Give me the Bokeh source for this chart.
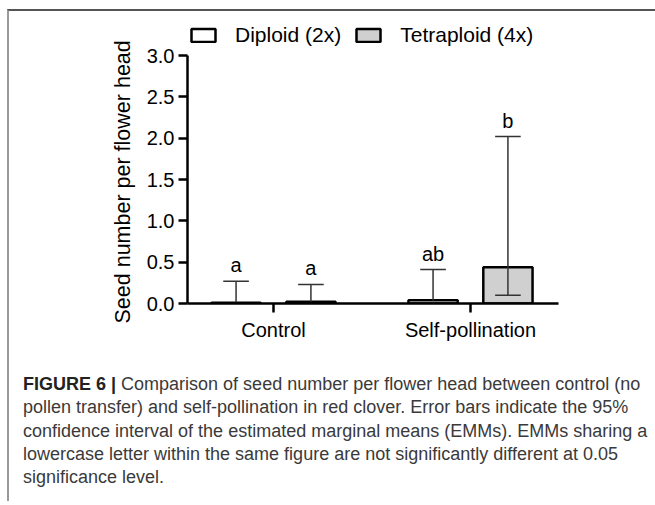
from bokeh.plotting import figure
from bokeh.models import (ColumnDataSource, FixedTicker, NumeralTickFormatter,
                          Legend, LegendItem, Div, Title)
from bokeh.layouts import column
from bokeh.core.properties import value
from bokeh.embed import file_html
from bokeh.resources import INLINE

# ---------------- data ----------------
categories = ["Control", "Self-pollination"]
cat_pos = [0, 1]
diploid_mean = [0.01, 0.04]
tetraploid_mean = [0.02, 0.44]
diploid_upper = [0.27, 0.41]
tetraploid_upper = [0.23, 2.02]
diploid_lower = [0.0, 0.0]
tetraploid_lower = [0.0, 0.10]
diploid_letters = ["a", "ab"]
tetraploid_letters = ["a", "b"]
y_ticks = [0.0, 0.5, 1.0, 1.5, 2.0, 2.5, 3.0]
series_names = ["Diploid (2x)", "Tetraploid (4x)"]
series_colors = ["white", "#d0d0d0"]
y_label = "Seed number per flower head"

caption_bold = "FIGURE 6 |"
caption_lines = [
    " Comparison of seed number per flower head between control (no",
    "pollen transfer) and self-pollination in red clover. Error bars indicate the 95%",
    "confidence interval of the estimated marginal means (EMMs). EMMs sharing a",
    "lowercase letter within the same figure are not significantly different at 0.05",
    "significance level.",
]

FONT = "Liberation Sans"
OFF = 0.19
BW = 0.25
CAP = 0.065

p = figure(width=646, height=340, output_backend="svg", toolbar_location=None,
           x_range=(-0.4365, 1.4467), y_range=(0, 3.4234),
           min_border_left=178, min_border_right=97,
           min_border_top=9, min_border_bottom=48)
p.grid.visible = False
p.outline_line_color = None
p.background_fill_color = "white"
p.border_fill_color = "white"

groups = [
    (diploid_mean, diploid_upper, diploid_lower, diploid_letters, -OFF, series_colors[0]),
    (tetraploid_mean, tetraploid_upper, tetraploid_lower, tetraploid_letters, OFF, series_colors[1]),
]
renderers = []
for mean, up, lo, letters, off, color in groups:
    xs = [c + off for c in cat_pos]
    src = ColumnDataSource(dict(x=xs, top=mean, up=up, txt=letters,
                                x0=[x - CAP for x in xs], x1=[x + CAP for x in xs]))
    r = p.vbar(x="x", top="top", bottom=0, width=BW, source=src,
               fill_color=color, line_color="black", line_width=2.5)
    renderers.append(r)
    p.segment(x0="x", y0="top", x1="x", y1="up", source=src,
              line_color="#333333", line_width=1.5)
    p.segment(x0="x0", y0="up", x1="x1", y1="up", source=src,
              line_color="#333333", line_width=1.5)
    lx = [x for x, l in zip(xs, lo) if l > 0]
    if lx:
        ll = [l for l in lo if l > 0]
        tops = [t for t, l in zip(mean, lo) if l > 0]
        lsrc = ColumnDataSource(dict(x=lx, lo=ll, top=tops,
                                     x0=[x - CAP for x in lx], x1=[x + CAP for x in lx]))
        p.segment(x0="x", y0="lo", x1="x", y1="top", source=lsrc,
                  line_color="#333333", line_width=1.5)
        p.segment(x0="x0", y0="lo", x1="x1", y1="lo", source=lsrc,
                  line_color="#333333", line_width=1.5)
    p.text(x="x", y="up", text="txt", source=src, text_align="center",
           text_baseline="alphabetic", y_offset=-16, text_font_size="20px",
           text_font=value(FONT), text_color="black")

p.xaxis.ticker = FixedTicker(ticks=cat_pos)
p.xaxis.major_label_overrides = {c: n for c, n in zip(cat_pos, categories)}
p.yaxis.ticker = FixedTicker(ticks=y_ticks)
p.yaxis.formatter = NumeralTickFormatter(format="0.0")
p.yaxis.bounds = (0, 3.0)
for ax in (p.xaxis, p.yaxis):
    ax.axis_line_width = 2.5
    ax.axis_line_color = "black"
    ax.major_tick_line_width = 2.5
    ax.major_tick_line_color = "black"
    ax.major_tick_out = 9
    ax.major_tick_in = 0
    ax.minor_tick_line_color = None
    ax.major_label_text_font = FONT
    ax.major_label_text_font_size = "20px"
    ax.major_label_text_color = "black"
p.xaxis.major_label_standoff = 6
p.yaxis.major_label_standoff = 4

# y-axis title, starting just below the x axis like the reference
p.add_layout(Title(text=y_label, align="left", offset=-20, standoff=18,
                   text_font=FONT, text_font_size="21.5px",
                   text_font_style="normal", text_color="black"), "left")

legend = Legend(items=[LegendItem(label=n, renderers=[r]) for n, r in zip(series_names, renderers)],
                orientation="horizontal", location=(1, 256),
                glyph_width=30, glyph_height=16, label_height=16,
                label_standoff=17, spacing=12, padding=0, margin=0,
                border_line_color=None, background_fill_alpha=0,
                label_text_font=FONT, label_text_font_size="21px",
                label_text_color="black")
p.add_layout(legend)

html_lines = ["<b style='color:#222222'>" + caption_bold + "</b>" + caption_lines[0]] + caption_lines[1:]
caption_html = ("<div style=\"font-family:'Liberation Sans';font-size:18px;line-height:23.3px;"
                "color:#3a3a3a;white-space:nowrap;padding-top:22px;padding-left:14px;\">"
                + "<br>".join(html_lines) + "</div>")
div = Div(text=caption_html, width=640, height=150, margin=(0, 0, 0, 0))

layout = column(p, div, spacing=0,
                styles={"margin-left": "7px", "margin-top": "9px",
                        "border-top": "2px solid #555555",
                        "border-left": "2px solid #9a9a9a"})

open("out.html", "w").write(file_html(layout, INLINE))
